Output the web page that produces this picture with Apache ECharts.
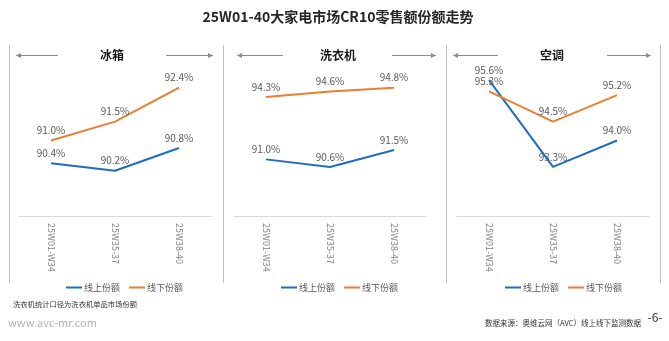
<!DOCTYPE html>
<html>
<head>
<meta charset="utf-8">
<script src="https://cdn.jsdelivr.net/npm/echarts@6/dist/echarts.min.js"></script>
<style>
html,body{margin:0;padding:0;background:#fff;}
#chart{width:669px;height:341px;}
</style>
</head>
<body>
<div id="chart"></div>
<script>
var categories = ['25W01-W34', '25W35-37', '25W38-40'];
var seriesNames = ['线上份额', '线下份额'];
var panelTitles = ['冰箱', '洗衣机', '空调'];
var fridgeOnline = [90.4, 90.2, 90.8];
var fridgeOffline = [91.0, 91.5, 92.4];
var washerOnline = [91.0, 90.6, 91.5];
var washerOffline = [94.3, 94.6, 94.8];
var acOnline = [95.6, 93.3, 94.0];
var acOffline = [95.3, 94.5, 95.2];
var yMins = [89, 88, 92];
var yMaxs = [93, 96, 96];

var FONT = '"Noto Sans CJK SC", "Noto Sans", sans-serif';
var BLUE = '#1f6cc4';
var ORANGE = '#ed7d31';

var panels = [
  {on: fridgeOnline, off: fridgeOffline},
  {on: washerOnline, off: washerOffline},
  {on: acOnline, off: acOffline}
];
var gridLefts = [19, 234, 457];
var gridW = 192;

var grids = [], xAxes = [], yAxes = [], series = [], legends = [];
panels.forEach(function (p, i) {
  grids.push({left: gridLefts[i], top: 65, width: gridW, height: 151});
  xAxes.push({
    type: 'category', gridIndex: i, data: categories, boundaryGap: true,
    axisLine: {lineStyle: {color: '#d9d9d9', width: 1}},
    axisTick: {show: false},
    axisLabel: {rotate: -90, color: '#808080', fontSize: 9, fontFamily: FONT, margin: 7}
  });
  yAxes.push({
    type: 'value', gridIndex: i, min: yMins[i], max: yMaxs[i], show: false,
    splitLine: {show: false}
  });
  [[p.on, BLUE, seriesNames[0]], [p.off, ORANGE, seriesNames[1]]].forEach(function (s) {
    series.push({
      type: 'line', name: s[2], xAxisIndex: i, yAxisIndex: i, data: s[0],
      symbol: 'circle', symbolSize: 0.1, showSymbol: true, smooth: false,
      lineStyle: {color: s[1], width: 2},
      itemStyle: {color: s[1]},
      label: {
        show: true, position: 'top', distance: 5, color: '#595959',
        fontSize: 10, fontFamily: FONT,
        formatter: function (d) { return d.value.toFixed(1) + '%'; }
      },
      labelLayout: {hideOverlap: false}
    });
  });
  legends.push({
    left: [61, 276, 500][i], top: 278, itemWidth: 16, itemHeight: 2, itemGap: 9,
    icon: 'rect', data: seriesNames,
    textStyle: {fontSize: 9, color: '#595959', fontFamily: FONT, padding: [0, 0, 0, -3]}
  });
});

var graphics = [];
graphics.push({type: 'text', x: 338, y: 17, style: {text: '25W01-40大家电市场CR10零售额份额走势', font: 'bold 14px ' + FONT, fill: '#262626', textAlign: 'center', textVerticalAlign: 'middle'}});
[9.5, 223.5, 446.5, 660.5].forEach(function (x) {
  graphics.push({type: 'line', shape: {x1: x, y1: 45, x2: x, y2: 283}, style: {stroke: '#bfbfbf', lineWidth: 1}});
});
var arrowSpecs = [[16, 58, 166, 213, 112], [237, 283, 392, 436, 338], [453, 498, 607, 651, 552]];
arrowSpecs.forEach(function (a, i) {
  var y = 55.5;
  graphics.push({type: 'line', shape: {x1: a[0], y1: y, x2: a[1], y2: y}, style: {stroke: '#8c8c8c', lineWidth: 1}});
  graphics.push({type: 'polygon', shape: {points: [[a[0], y], [a[0] + 5, y - 2.5], [a[0] + 5, y + 2.5]]}, style: {fill: '#8c8c8c'}});
  graphics.push({type: 'line', shape: {x1: a[2], y1: y, x2: a[3], y2: y}, style: {stroke: '#8c8c8c', lineWidth: 1}});
  graphics.push({type: 'polygon', shape: {points: [[a[3], y], [a[3] - 5, y - 2.5], [a[3] - 5, y + 2.5]]}, style: {fill: '#8c8c8c'}});
  graphics.push({type: 'text', x: a[4], y: y, style: {text: panelTitles[i], font: 'bold 12px ' + FONT, fill: '#1a1a1a', textAlign: 'center', textVerticalAlign: 'middle'}});
});
graphics.push({type: 'text', x: 13, y: 304, style: {text: '洗衣机统计口径为洗衣机单品市场份额', font: '7.3px ' + FONT, fill: '#333333', textVerticalAlign: 'middle'}});
graphics.push({type: 'text', x: 8, y: 323, style: {text: 'www.avc-mr.com', font: '11px ' + FONT, fill: '#b3b3b3', textVerticalAlign: 'middle'}});
graphics.push({type: 'text', x: 485, y: 323, style: {text: '数据来源：奥维云网（AVC）线上线下监测数据', font: '7.5px ' + FONT, fill: '#333333', textVerticalAlign: 'middle'}});
graphics.push({type: 'text', x: 655, y: 317, style: {text: '-6-', font: '12px ' + FONT, fill: '#333333', textAlign: 'center', textVerticalAlign: 'middle'}});

var chart = echarts.init(document.getElementById('chart'), null, {renderer: 'canvas'});
chart.setOption({
  backgroundColor: '#ffffff',
  animation: false,
  grid: grids,
  xAxis: xAxes,
  yAxis: yAxes,
  legend: legends,
  series: series,
  graphic: graphics
});
</script>
</body>
</html>
